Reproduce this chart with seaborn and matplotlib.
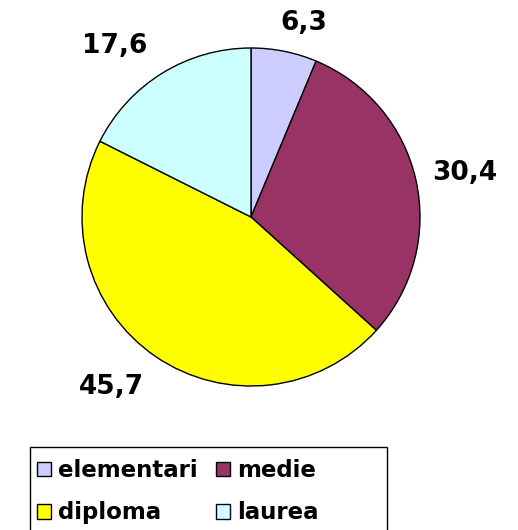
import seaborn as sns
import matplotlib.pyplot as plt
from matplotlib.patches import Patch, Rectangle

# data
categories = ['elementari', 'medie', 'diploma', 'laurea']
values = [6.3, 30.4, 45.7, 17.6]
value_labels = ['6,3', '30,4', '45,7', '17,6']

colors = ['#CCCCFF', '#993366', '#FFFF00', '#CCFFFF']

# label centres in pixel coords (x from left, y from top)
label_xy = [(304, 23), (465, 173), (111, 387), (115, 46)]

W, H = 518, 530

sns.set_style("white")
plt.rcParams['font.family'] = ['DejaVu Sans']
plt.rcParams['text.color'] = 'black'

fig = plt.figure(figsize=(W / 100, H / 100), dpi=100)
ax = fig.add_axes([0, 0, 1, 1])

ax.pie(values, colors=colors, startangle=90, counterclock=False,
       center=(251, H - 217), radius=169,
       wedgeprops=dict(edgecolor='black', linewidth=1.0))
ax.set_xlim(0, W)
ax.set_ylim(0, H)
ax.set_aspect('equal')
ax.axis('off')

for txt, (x, y) in zip(value_labels, label_xy):
    ax.text(x, H - y, txt, ha='center', va='center', fontsize=19,
            fontweight='bold', color='black')

# legend box (bottom is cut off by the figure edge like the original)
box = Rectangle((30 / W, 1 - 560 / H), (387 - 30) / W, (560 - 447) / H,
                transform=fig.transFigure, facecolor='white', edgecolor='black',
                linewidth=1.0, clip_on=False)
fig.patches.append(box)

# legend is filled row by row: elementari, medie / diploma, laurea
order = [0, 2, 1, 3]
handles = [Patch(facecolor=colors[i], edgecolor='black', linewidth=1.0) for i in order]
labels = [categories[i] for i in order]
leg = fig.legend(handles, labels, ncol=2, frameon=False,
                 loc='upper left', bbox_to_anchor=(37 / W, 1 - 459 / H),
                 borderpad=0, borderaxespad=0,
                 prop=dict(size=16.5, weight='bold'),
                 handlelength=0.62, handleheight=0.62, handletextpad=0.3,
                 columnspacing=0.8, labelspacing=0.85)
for t in leg.get_texts():
    t.set_color('black')

fig.savefig('out.png', dpi=100)
